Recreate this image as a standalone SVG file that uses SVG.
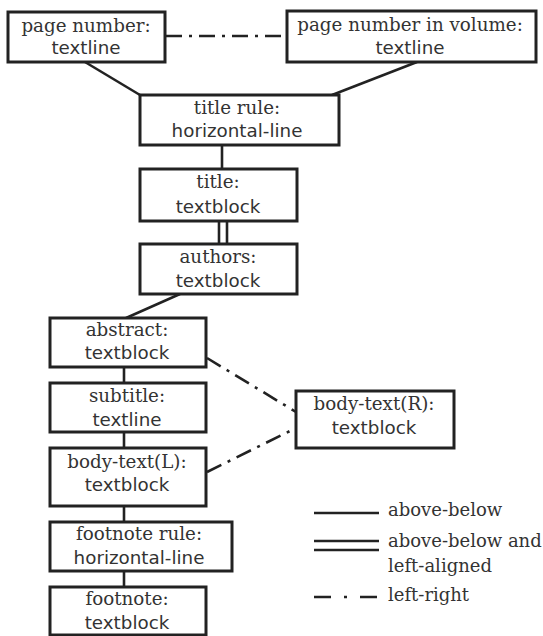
<svg xmlns="http://www.w3.org/2000/svg" width="543" height="636" viewBox="0 0 543 636">
<style>
.box{fill:#fff;stroke:#222;stroke-width:3}
.ln{fill:none;stroke:#222;stroke-width:2.6}
.dd{fill:none;stroke:#222;stroke-width:2.6;stroke-dasharray:16 7 3 7}
.s{font-family:"DejaVu Serif","Liberation Serif",serif;font-size:18.3px;fill:#333;text-anchor:middle}
.t{font-family:"DejaVu Sans","Liberation Sans",sans-serif;font-size:18.3px;fill:#333;text-anchor:middle}
.lg{font-family:"DejaVu Serif","Liberation Serif",serif;font-size:18px;fill:#333}
</style>
<g id="connectors">
<line class="dd" x1="166" y1="36" x2="287" y2="36"/>
<line class="ln" x1="85" y1="62" x2="140" y2="95"/>
<line class="ln" x1="417" y1="62" x2="332" y2="95"/>
<line class="ln" x1="222" y1="145" x2="222" y2="169"/>
<line class="ln" x1="219" y1="221" x2="219" y2="244"/>
<line class="ln" x1="227" y1="221" x2="227" y2="244"/>
<line class="ln" x1="180" y1="294" x2="126" y2="318"/>
<line class="ln" x1="124" y1="367" x2="124" y2="383"/>
<line class="ln" x1="124" y1="432" x2="124" y2="448"/>
<line class="ln" x1="124" y1="506" x2="124" y2="522"/>
<line class="ln" x1="124" y1="571" x2="124" y2="587"/>
<line class="dd" x1="207" y1="358" x2="296" y2="412"/>
<line class="dd" x1="207" y1="472" x2="296" y2="428"/>
</g>
<g id="n-page-number"><rect class="box" x="8" y="12" width="157" height="50"/><text class="s" x="86" y="32">page number:</text><text class="t" x="86" y="54">textline</text></g>
<g id="n-page-number-volume"><rect class="box" x="287" y="11" width="249" height="51"/><text class="s" x="410" y="31">page number in volume:</text><text class="t" x="410" y="54">textline</text></g>
<g id="n-title-rule"><rect class="box" x="140" y="95" width="199" height="50"/><text class="s" x="237" y="114">title rule:</text><text class="t" x="237" y="137">horizontal-line</text></g>
<g id="n-title"><rect class="box" x="140" y="169" width="157" height="52"/><text class="s" x="218" y="188">title:</text><text class="t" x="218" y="213">textblock</text></g>
<g id="n-authors"><rect class="box" x="140" y="244" width="157" height="50"/><text class="s" x="218" y="263">authors:</text><text class="t" x="218" y="287">textblock</text></g>
<g id="n-abstract"><rect class="box" x="50" y="318" width="156" height="49"/><text class="s" x="127" y="336">abstract:</text><text class="t" x="127" y="359">textblock</text></g>
<g id="n-subtitle"><rect class="box" x="50" y="383" width="156" height="49"/><text class="s" x="127" y="402">subtitle:</text><text class="t" x="127" y="426">textline</text></g>
<g id="n-body-l"><rect class="box" x="50" y="448" width="156" height="58"/><text class="s" x="127" y="468">body-text(L):</text><text class="t" x="127" y="491">textblock</text></g>
<g id="n-footnote-rule"><rect class="box" x="50" y="522" width="182" height="49"/><text class="s" x="139" y="540">footnote rule:</text><text class="t" x="139" y="564">horizontal-line</text></g>
<g id="n-footnote"><rect class="box" x="50" y="587" width="156" height="48"/><text class="s" x="127" y="605">footnote:</text><text class="t" x="127" y="629">textblock</text></g>
<g id="n-body-r"><rect class="box" x="296" y="391" width="158" height="57"/><text class="s" x="374" y="410">body-text(R):</text><text class="t" x="374" y="434">textblock</text></g>
<g id="legend">
<line class="ln" x1="314" y1="513" x2="379" y2="513"/>
<text class="lg" x="388" y="516">above-below</text>
<line class="ln" x1="314" y1="541" x2="379" y2="541"/>
<line class="ln" x1="314" y1="550" x2="379" y2="550"/>
<text class="lg" x="388" y="547">above-below and</text>
<text class="lg" x="388" y="572">left-aligned</text>
<line class="ln" x1="314" y1="597" x2="379" y2="597" style="stroke-dasharray:17 13 3 13"/>
<text class="lg" x="388" y="601">left-right</text>
</g>
</svg>
